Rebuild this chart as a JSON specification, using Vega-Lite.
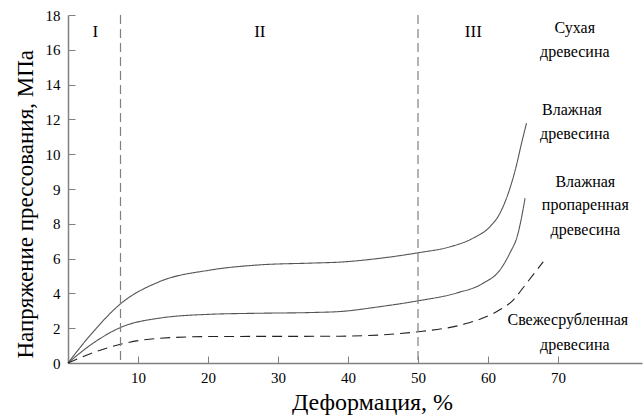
{
  "$schema": "https://vega.github.io/schema/vega-lite/v6.json",
  "width": 574,
  "height": 348,
  "autosize": "none",
  "padding": {"left": 68, "top": 15, "right": 1, "bottom": 56},
  "background": "white",
  "config": {
    "view": {"stroke": null},
    "font": "Liberation Serif",
    "axis": {
      "domainColor": "#808080",
      "domainWidth": 1.5,
      "tickColor": "#808080",
      "tickWidth": 1,
      "grid": false,
      "labelFont": "Liberation Serif",
      "labelFontSize": 15,
      "labelColor": "black",
      "titleFont": "Liberation Serif",
      "titleFontWeight": "normal",
      "titleColor": "black"
    }
  },
  "datasets": {
    "curves": [
      {"series": "dry", "x": 0, "y": 0},
      {"series": "dry", "x": 3.1, "y": 0.78},
      {"series": "dry", "x": 7.5, "y": 1.7},
      {"series": "dry", "x": 13.1, "y": 2.34},
      {"series": "dry", "x": 20.3, "y": 2.67},
      {"series": "dry", "x": 27.4, "y": 2.82},
      {"series": "dry", "x": 34.6, "y": 2.87},
      {"series": "dry", "x": 38.9, "y": 2.9},
      {"series": "dry", "x": 44.6, "y": 3.01},
      {"series": "dry", "x": 50.1, "y": 3.17},
      {"series": "dry", "x": 54.6, "y": 3.34},
      {"series": "dry", "x": 57.9, "y": 3.59},
      {"series": "dry", "x": 60.3, "y": 3.92},
      {"series": "dry", "x": 61.7, "y": 4.3},
      {"series": "dry", "x": 62.9, "y": 4.88},
      {"series": "dry", "x": 63.9, "y": 5.55},
      {"series": "dry", "x": 64.8, "y": 6.32},
      {"series": "dry", "x": 65.5, "y": 6.89},
      {"series": "wet", "x": 0, "y": 0},
      {"series": "wet", "x": 3.1, "y": 0.5},
      {"series": "wet", "x": 7.5, "y": 1.02},
      {"series": "wet", "x": 13.1, "y": 1.29},
      {"series": "wet", "x": 20.3, "y": 1.4},
      {"series": "wet", "x": 27.4, "y": 1.43},
      {"series": "wet", "x": 34.6, "y": 1.45},
      {"series": "wet", "x": 38.9, "y": 1.48},
      {"series": "wet", "x": 44.6, "y": 1.62},
      {"series": "wet", "x": 50.1, "y": 1.79},
      {"series": "wet", "x": 55.5, "y": 2.01},
      {"series": "wet", "x": 59.3, "y": 2.29},
      {"series": "wet", "x": 61.7, "y": 2.67},
      {"series": "wet", "x": 63.1, "y": 3.15},
      {"series": "wet", "x": 64.3, "y": 3.73},
      {"series": "wet", "x": 65.0, "y": 4.4},
      {"series": "wet", "x": 65.3, "y": 4.74},
      {"series": "fresh", "x": 0, "y": 0},
      {"series": "fresh", "x": 3.1, "y": 0.26},
      {"series": "fresh", "x": 7.5, "y": 0.54},
      {"series": "fresh", "x": 13.1, "y": 0.71},
      {"series": "fresh", "x": 20.3, "y": 0.76},
      {"series": "fresh", "x": 38.9, "y": 0.77},
      {"series": "fresh", "x": 50.1, "y": 0.9},
      {"series": "fresh", "x": 57.0, "y": 1.14},
      {"series": "fresh", "x": 60.8, "y": 1.43},
      {"series": "fresh", "x": 63.6, "y": 1.81},
      {"series": "fresh", "x": 65.5, "y": 2.29},
      {"series": "fresh", "x": 67.9, "y": 2.91}
    ],
    "bounds": [{"x": 7.5}, {"x": 50}],
    "regions": [
      {"x": 3.9, "y": 9.5, "label": "I"},
      {"x": 27.4, "y": 9.5, "label": "II"},
      {"x": 57.9, "y": 9.5, "label": "III"}
    ],
    "labels": [
      {"x": 72.4, "y": 9.63, "label": "Сухая"},
      {"x": 72.4, "y": 8.94, "label": "древесина"},
      {"x": 72.0, "y": 7.27, "label": "Влажная"},
      {"x": 72.4, "y": 6.58, "label": "древесина"},
      {"x": 73.9, "y": 5.2, "label": "Влажная"},
      {"x": 73.9, "y": 4.54, "label": "пропаренная"},
      {"x": 73.9, "y": 3.82, "label": "древесина"},
      {"x": 71.4, "y": 1.24, "label": "Свежесрубленная"},
      {"x": 72.4, "y": 0.52, "label": "древесина"}
    ]
  },
  "layer": [
    {
      "data": {"name": "curves"},
      "mark": {"type": "line", "interpolate": "monotone", "strokeWidth": 1.1},
      "encoding": {
        "x": {
          "field": "x",
          "type": "quantitative",
          "scale": {"domain": [0, 82], "nice": false},
          "axis": {
            "values": [10, 20, 30, 40, 50, 60, 70],
            "tickCount": 20,
            "tickSize": -7,
            "labelPadding": 14,
            "labelOverlap": false,
            "title": "Деформация, %",
            "titleFontSize": 24,
            "titlePadding": 5,
            "titleX": 304
          }
        },
        "y": {
          "field": "y",
          "type": "quantitative",
          "scale": {"domain": [0, 10], "nice": false},
          "axis": {
            "values": [0, 1, 2, 3, 4, 5, 6, 7, 8, 9, 10],
            "tickCount": 20,
            "labelExpr": "['0','2','4','6','8','9','10','12','14','16','18'][round(datum.value)]",
            "tickSize": -7,
            "labelPadding": 15,
            "labelOverlap": false,
            "title": "Напряжение прессования, МПа",
            "titleFontSize": 23,
            "titleAnchor": "start",
            "titleY": 343,
            "titlePadding": 8
          }
        },
        "color": {
          "field": "series",
          "type": "nominal",
          "scale": {"domain": ["dry", "wet", "fresh"], "range": ["#555555", "#555555", "#222222"]},
          "legend": null
        },
        "strokeDash": {
          "field": "series",
          "type": "nominal",
          "scale": {"domain": ["dry", "wet", "fresh"], "range": [[1, 0], [1, 0], [10, 6]]},
          "legend": null
        }
      }
    },
    {
      "mark": {"type": "rule", "color": "#808080", "strokeWidth": 1.5},
      "encoding": {"y": {"datum": 10, "type": "quantitative"}}
    },
    {
      "data": {"name": "bounds"},
      "mark": {"type": "rule", "color": "#808080", "strokeWidth": 1.2, "strokeDash": [9, 5]},
      "encoding": {"x": {"field": "x", "type": "quantitative"}}
    },
    {
      "data": {"name": "regions"},
      "mark": {"type": "text", "font": "Liberation Serif", "fontSize": 17, "color": "black"},
      "encoding": {
        "x": {"field": "x", "type": "quantitative"},
        "y": {"field": "y", "type": "quantitative"},
        "text": {"field": "label"}
      }
    },
    {
      "data": {"name": "labels"},
      "mark": {"type": "text", "font": "Liberation Serif", "fontSize": 16, "color": "black"},
      "encoding": {
        "x": {"field": "x", "type": "quantitative"},
        "y": {"field": "y", "type": "quantitative"},
        "text": {"field": "label"}
      }
    }
  ]
}
